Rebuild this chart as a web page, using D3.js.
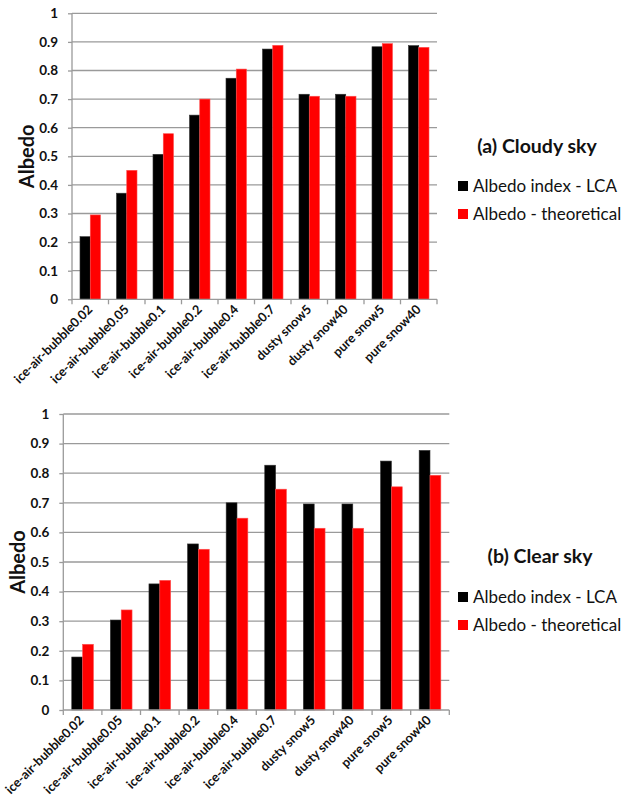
<!DOCTYPE html>
<html>
<head>
<meta charset="utf-8">
<script src="https://cdn.jsdelivr.net/npm/d3@7"></script>
<style>
  body { margin: 0; background: #fff; }
  svg { font-family: Lato, "Open Sans", sans-serif; }
</style>
</head>
<body>
<div id="chart"></div>
<script>
const categories = ["ice-air-bubble0.02", "ice-air-bubble0.05", "ice-air-bubble0.1", "ice-air-bubble0.2",
  "ice-air-bubble0.4", "ice-air-bubble0.7", "dusty snow5", "dusty snow40", "pure snow5", "pure snow40"];
const seriesNames = ["Albedo index - LCA", "Albedo - theoretical"];
const seriesColors = ["#000000", "#ff0000"];
const yTicks = [0, 0.1, 0.2, 0.3, 0.4, 0.5, 0.6, 0.7, 0.8, 0.9, 1];

const cloudyLCA = [0.219, 0.371, 0.507, 0.644, 0.773, 0.875, 0.717, 0.717, 0.883, 0.887];
const cloudyTheo = [0.295, 0.451, 0.579, 0.700, 0.805, 0.888, 0.710, 0.710, 0.894, 0.881];
const clearLCA = [0.179, 0.304, 0.426, 0.561, 0.700, 0.827, 0.696, 0.696, 0.841, 0.877];
const clearTheo = [0.222, 0.338, 0.438, 0.543, 0.648, 0.746, 0.614, 0.614, 0.754, 0.793];

const svg = d3.select("#chart").append("svg")
  .attr("width", 624)
  .attr("height", 806);

function drawPanel(opts) {
  const { left, right, top, bottom, title, values, legend, labelShift } = opts;
  const g = svg.append("g");

  const x = d3.scaleBand().domain(categories).range([left, right]).padding(0);
  const xs = d3.scaleBand().domain(seriesNames).range([0, x.bandwidth()])
    .paddingInner(0).paddingOuter(0.78);
  const y = d3.scaleLinear().domain([0, 1]).range([bottom, top]);

  // gridlines
  g.append("g").selectAll("line")
    .data(yTicks.filter(d => d > 0))
    .enter().append("line")
    .attr("x1", left).attr("x2", right)
    .attr("y1", d => y(d)).attr("y2", d => y(d))
    .attr("stroke", "#9a9a9a")
    .attr("stroke-width", 1.3);

  // y axis
  const yAxis = g.append("g")
    .attr("transform", "translate(" + left + ",0)")
    .call(d3.axisLeft(y).tickValues(yTicks).tickSize(4).tickPadding(10)
      .tickFormat(d => d === 0 || d === 1 ? String(d) : d3.format(".1f")(d)));
  yAxis.selectAll("path, line").attr("stroke", "#9a9a9a").attr("stroke-width", 1.3);
  yAxis.select(".domain").attr("d", "M0," + y(0) + "V" + y(1));
  yAxis.selectAll("text")
    .attr("font-family", "Lato, sans-serif")
    .attr("font-size", 13.5)
    .attr("font-weight", "bold")
    .attr("fill", "#111");

  // bars
  const rows = categories.map((c, i) => ({ cat: c, vals: values.map(v => v[i]) }));
  const groups = g.append("g").selectAll("g")
    .data(rows)
    .enter().append("g")
    .attr("transform", d => "translate(" + x(d.cat) + ",0)");
  groups.selectAll("rect")
    .data(d => d.vals.map((v, k) => ({ name: seriesNames[k], v: v, k: k })))
    .enter().append("rect")
    .attr("x", d => xs(d.name))
    .attr("y", d => y(d.v))
    .attr("width", xs.bandwidth())
    .attr("height", d => y(0) - y(d.v))
    .attr("fill", d => seriesColors[d.k])
    .attr("stroke", d => d.k === 0 ? "#333" : "#ff5050")
    .attr("stroke-width", 0.6);

  // x axis
  const xAxis = g.append("g")
    .attr("transform", "translate(0," + y(0) + ")");
  xAxis.append("line")
    .attr("x1", left).attr("x2", right)
    .attr("stroke", "#9a9a9a").attr("stroke-width", 1.3);
  xAxis.selectAll(".tick")
    .data(categories.concat(["end"]))
    .enter().append("line")
    .attr("x1", (d, i) => i < categories.length ? x(d) : right)
    .attr("x2", (d, i) => i < categories.length ? x(d) : right)
    .attr("y1", 0).attr("y2", 5)
    .attr("stroke", "#9a9a9a").attr("stroke-width", 1.3);
  xAxis.selectAll("text")
    .data(categories)
    .enter().append("text")
    .attr("transform", d => "translate(" + (x(d) + x.bandwidth() / 2 + labelShift) + ",11) rotate(-45)")
    .attr("text-anchor", "end")
    .attr("font-size", 12.8)
    .attr("font-weight", "bold")
    .attr("fill", "#111")
    .text(d => d);

  // y axis title
  g.append("text")
    .attr("transform", "translate(" + (left - 38) + "," + ((top + bottom) / 2) + ") rotate(-90)")
    .attr("text-anchor", "middle")
    .attr("font-size", 20)
    .attr("font-weight", "bold")
    .attr("fill", "#111")
    .text("Albedo");

  // legend
  g.append("text")
    .attr("x", legend.cx).attr("y", legend.titleY)
    .attr("text-anchor", "middle")
    .attr("font-size", 19.5)
    .attr("font-weight", "bold")
    .attr("fill", "#111")
    .text(title);
  const items = g.append("g").selectAll("g")
    .data(seriesNames)
    .enter().append("g")
    .attr("transform", (d, i) => "translate(" + legend.x + "," + (legend.itemY + i * legend.gap) + ")");
  items.append("rect")
    .attr("x", 0).attr("y", -11)
    .attr("width", 10).attr("height", 10)
    .attr("fill", (d, i) => seriesColors[i]);
  items.append("text")
    .attr("x", 15).attr("y", 0)
    .attr("font-size", 17)
    .attr("fill", "#111")
    .text(d => d);
}

drawPanel({
  left: 72, right: 437, top: 13.3, bottom: 299.3,
  title: "(a) Cloudy sky",
  values: [cloudyLCA, cloudyTheo],
  labelShift: 3,
  legend: { cx: 537, titleY: 153, x: 458, itemY: 192, gap: 28 }
});

drawPanel({
  left: 63.3, right: 449.3, top: 414, bottom: 710,
  title: "(b) Clear sky",
  values: [clearLCA, clearTheo],
  labelShift: 2,
  legend: { cx: 540, titleY: 563, x: 458, itemY: 603, gap: 28 }
});
</script>
</body>
</html>
